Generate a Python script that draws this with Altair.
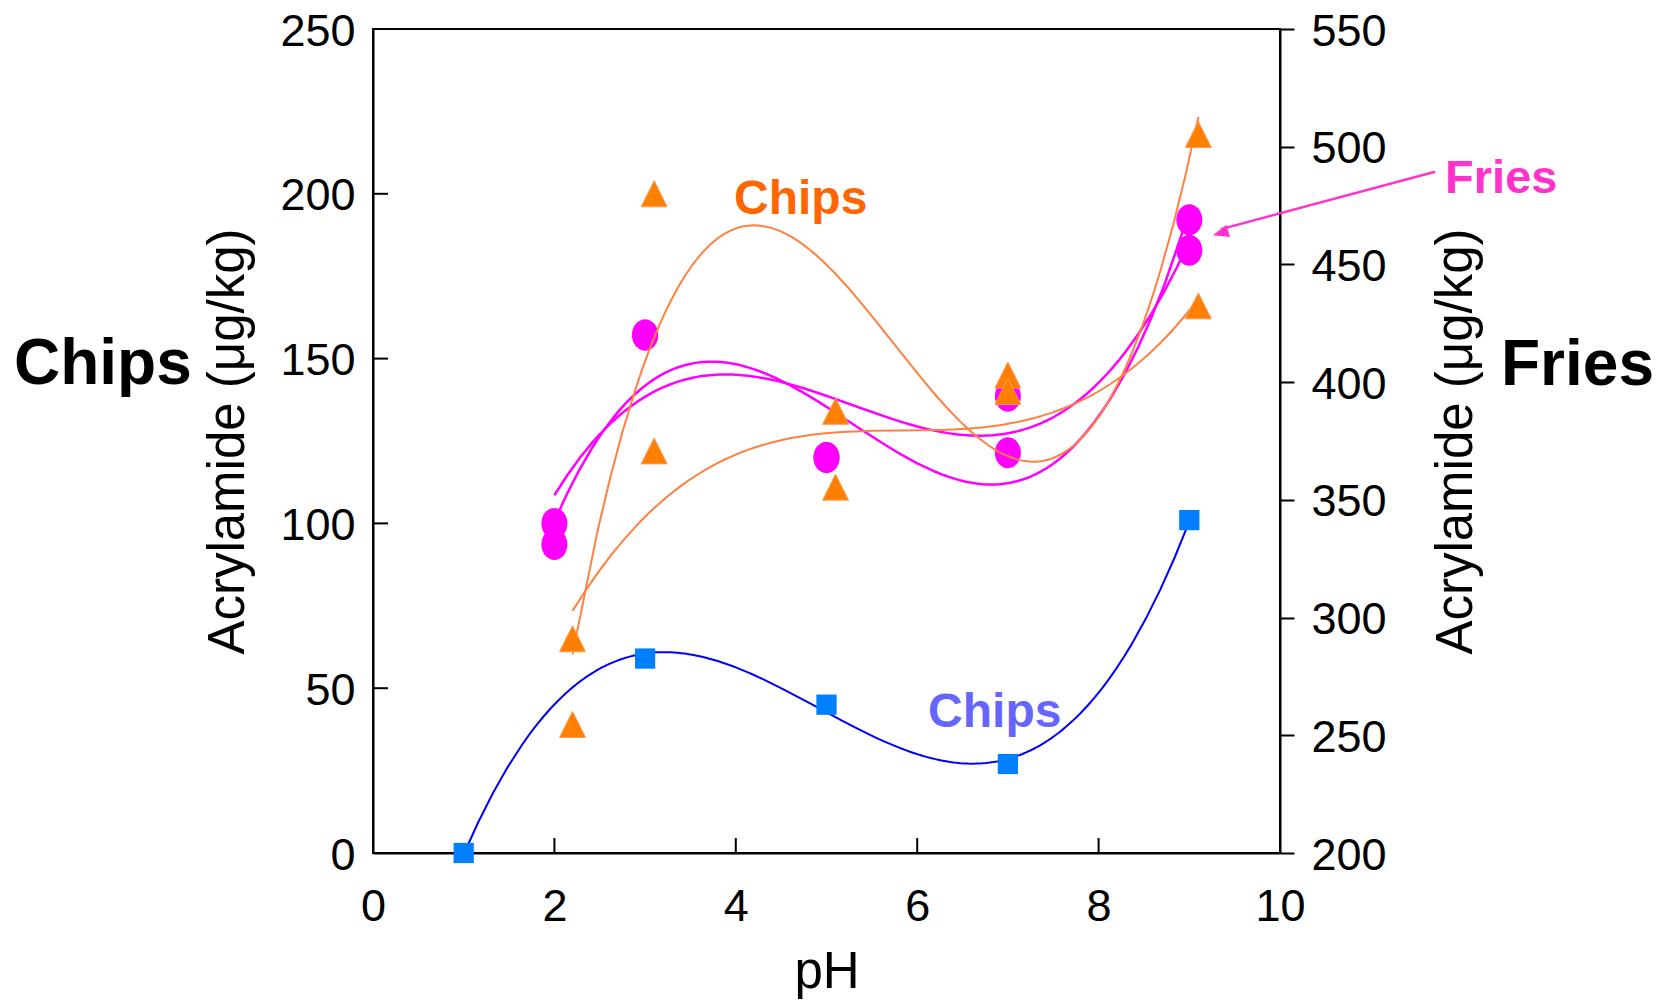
import altair as alt
import pandas as pd

FONT = "Liberation Sans"

# ---------------- data ----------------
x_ticks = [0, 2, 4, 6, 8, 10]
chips_ticks = [0, 50, 100, 150, 200, 250]
fries_ticks = [200, 250, 300, 350, 400, 450, 500, 550]

# Chips (left axis) - blue squares
ph_blue = [1, 3, 5, 7, 9]
chips_blue = [0, 59, 45, 27, 101]

# Chips (left axis) - orange triangles, two series
ph_orange = [2.2, 3.1, 5.1, 7.0, 9.1]
chips_orange_a = [39, 200, 134, 145, 218]
chips_orange_b = [65, 122, 111, 140, 166]

# Fries (right axis) - magenta circles, two series
ph_magenta = [2, 3, 5, 7, 9]
fries_a = [331, 420, 368, 370, 469]
fries_b = [340, 420, 368, 394, 456]

label_chips = ["Chips"]
label_fries = ["Fries"]

# ---------------- tables ----------------
blue_df = pd.DataFrame({"ph": ph_blue, "value": chips_blue, "series": "blue"})
orange_df = pd.concat([
    pd.DataFrame({"ph": ph_orange, "value": chips_orange_a, "series": "orange_a"}),
    pd.DataFrame({"ph": ph_orange, "value": chips_orange_b, "series": "orange_b"}),
])
fries_df = pd.concat([
    pd.DataFrame({"ph": ph_magenta, "value": fries_a, "series": "fries_a"}),
    pd.DataFrame({"ph": ph_magenta, "value": fries_b, "series": "fries_b"}),
])
chips_lbl_df = pd.DataFrame({"label": label_chips})
fries_lbl_df = pd.DataFrame({"label": label_fries})
xt_df = pd.DataFrame({"t": x_ticks})
ct_df = pd.DataFrame({"t": chips_ticks})

# ---------------- scales & axes ----------------
x_scale = alt.Scale(domain=[0, 10], nice=False, zero=False)
chips_scale = alt.Scale(domain=[0, 250], nice=False, zero=False)
fries_scale = alt.Scale(domain=[200, 550], nice=False, zero=False)

common = dict(
    grid=False, domainColor="black", domainWidth=2,
    labelFont=FONT, labelFontSize=45, labelColor="black",
    titleFont=FONT, titleFontSize=51, titleFontWeight="normal", titleColor="black",
    labelFlush=False, labelOverlap=False, format="d",
)
x_axis = alt.Axis(values=x_ticks, title="pH", ticks=False, tickSize=0,
                  labelPadding=31, titlePadding=18, **common)
chips_axis = alt.Axis(values=chips_ticks, orient="left", title="Acrylamide (μg/kg)",
                      ticks=False, tickSize=0, labelPadding=18, titlePadding=25,
                      labelOffset=2, **common)
fries_axis = alt.Axis(values=fries_ticks, orient="right", title="Acrylamide (μg/kg)",
                      ticks=True, tickSize=14, tickWidth=2, tickColor="black",
                      labelPadding=17, titlePadding=45, titleAngle=270,
                      titleBaseline="top", labelOffset=2, **common)

X = alt.X("ph:Q", scale=x_scale, axis=x_axis)
YC = alt.Y("value:Q", scale=chips_scale, axis=chips_axis)
YF = alt.Y("value:Q", scale=fries_scale, axis=fries_axis)

TRI = "M-1,1L0,-1L1,1Z"
ELL = "M0,-1A0.84,1 0 1,1 0,1A0.84,1 0 1,1 0,-1Z"
HEAD = "M0,0L0.8,2L-0.8,2Z"

# ---------------- Fries group (right axis) ----------------
fries_lines = alt.Chart(fries_df).transform_regression(
    "ph", "value", method="poly", order=3, groupby=["series"]
).mark_line(color="#FF00FF", strokeWidth=2.5).encode(x=X, y=YF, detail="series:N")

fries_pts = alt.Chart(fries_df).mark_point(
    shape=ELL, size=961, filled=True, color="#FF00FF", opacity=1
).encode(x=X, y=YF)

arrow_line = alt.Chart(fries_lbl_df).mark_rule(color="#FF33CC", strokeWidth=2.5).encode(
    x=alt.datum(11.71), y=alt.datum(489.4), x2=alt.datum(9.35), y2=alt.datum(465.0)
)
arrow_head = alt.Chart(fries_lbl_df).mark_point(
    shape=HEAD, size=256, angle=254, filled=True, color="#FF33CC", opacity=1
).encode(x=alt.datum(9.26), y=alt.datum(462.4))

fries_text = alt.Chart(fries_lbl_df).mark_text(
    font=FONT, fontSize=47, fontWeight="bold", color="#FF33CC",
    align="left", baseline="alphabetic"
).encode(x=alt.datum(11.82), y=alt.datum(480.5), text="label:N")

fries_group = alt.layer(fries_lines, fries_pts, arrow_line, arrow_head, fries_text)

# ---------------- Chips group (left axis) ----------------
blue_line = alt.Chart(blue_df).transform_regression(
    "ph", "value", method="poly", order=3
).mark_line(color="#0000FF", strokeWidth=2).encode(x=X, y=YC)

orange_lines = alt.Chart(orange_df).transform_regression(
    "ph", "value", method="poly", order=3, groupby=["series"]
).mark_line(color="#FF8040", strokeWidth=2).encode(x=X, y=YC, detail="series:N")

orange_pts = alt.Chart(orange_df).mark_point(
    shape=TRI, size=676, filled=True, color="#FF8000", stroke="#FF9A55",
    strokeWidth=1, opacity=1
).encode(x=X, y=YC)

blue_pts = alt.Chart(blue_df).mark_point(
    shape="square", size=410, filled=True, color="#0080FF", opacity=1
).encode(x=X, y=YC)

left_ticks = alt.Chart(ct_df).mark_rule(color="black", strokeWidth=2).encode(
    y=alt.Y("t:Q", scale=chips_scale, axis=chips_axis), x=alt.value(0), x2=alt.value(15)
)
bottom_ticks = alt.Chart(xt_df).mark_rule(color="black", strokeWidth=2).encode(
    x=alt.X("t:Q", scale=x_scale, axis=x_axis), y=alt.value(824), y2=alt.value(809)
)

orange_text = alt.Chart(chips_lbl_df).mark_text(
    font=FONT, fontSize=48, fontWeight="bold", color="#FF6600",
    align="left", baseline="alphabetic"
).encode(x=alt.datum(3.98), y=alt.datum(194), text="label:N")

blue_text = alt.Chart(chips_lbl_df).mark_text(
    font=FONT, fontSize=48, fontWeight="bold", color="#6666FF",
    align="left", baseline="alphabetic"
).encode(x=alt.datum(6.12), y=alt.datum(38.2), text="label:N")

big_chips = alt.Chart(chips_lbl_df).mark_text(
    font=FONT, fontSize=64, fontWeight="bold", color="black",
    align="left", baseline="alphabetic"
).encode(x=alt.value(-359), y=alt.value(355), text="label:N")

big_fries = alt.Chart(fries_lbl_df).mark_text(
    font=FONT, fontSize=64, fontWeight="bold", color="black",
    align="left", baseline="alphabetic"
).encode(x=alt.value(1128), y=alt.value(356), text="label:N")

chips_group = alt.layer(
    left_ticks, bottom_ticks, blue_line, orange_lines, blue_pts, orange_pts,
    orange_text, blue_text, big_chips, big_fries
)

chart = alt.layer(fries_group, chips_group).resolve_scale(
    y="independent"
).properties(
    width=907, height=824,
    autosize=alt.AutoSizeParams(type="none"),
    padding={"left": 373, "top": 29, "right": 397, "bottom": 153},
    background="white",
).configure_view(stroke="black", strokeWidth=2)

chart.save("out.html", embed_options={"renderer": "svg", "actions": False})
